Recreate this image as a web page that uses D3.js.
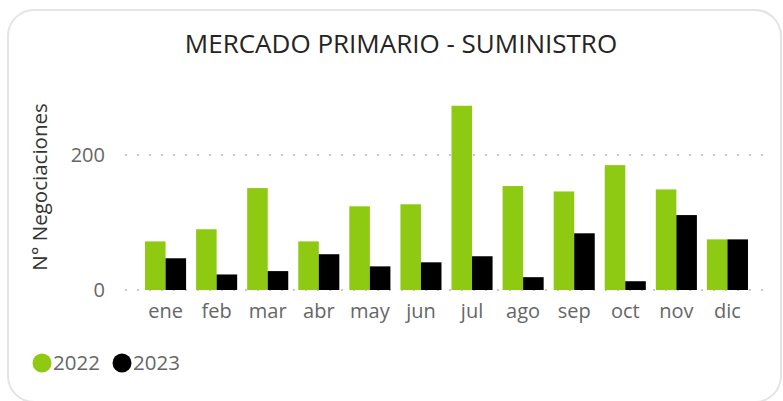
<!DOCTYPE html>
<html>
<head>
<meta charset="utf-8">
<script src="https://cdn.jsdelivr.net/npm/d3@7"></script>
<style>
  body { margin: 0; background: #fff; }
  svg { display: block; font-family: "Open Sans", sans-serif; }
</style>
</head>
<body>
<svg id="chart"></svg>
<script>
// data
var months = ["ene", "feb", "mar", "abr", "may", "jun", "jul", "ago", "sep", "oct", "nov", "dic"];
var years = ["2022", "2023"];
var values2022 = [72, 90, 151, 72, 124, 127, 273, 154, 146, 185, 149, 75];
var values2023 = [47, 23, 28, 53, 35, 41, 50, 19, 84, 13, 111, 75];
var yTicks = [0, 200];
var colors = ["#8fca13", "#000000"];

var svgWidth = 783, svgHeight = 401;
var svg = d3.select("#chart")
  .attr("width", svgWidth)
  .attr("height", svgHeight);

// card
svg.append("rect")
  .attr("x", 8).attr("y", 10)
  .attr("width", 773).attr("height", 392)
  .attr("rx", 26).attr("ry", 26)
  .attr("fill", "#fff")
  .attr("stroke", "#e4e4e4")
  .attr("stroke-width", 2);

svg.append("text")
  .attr("x", 401).attr("y", 53)
  .attr("text-anchor", "middle")
  .attr("fill", "#252423")
  .attr("font-size", 26)
  .text("MERCADO PRIMARIO - SUMINISTRO");

var y = d3.scaleLinear().domain([0, 200]).range([290, 155]);
var x = d3.scaleBand().domain(months).range([134.8, 758.2]).paddingInner(0.196).paddingOuter(0.2);
var x1 = d3.scaleBand().domain(years).range([0, x.bandwidth()]);

// dotted gridlines
svg.append("g").selectAll("line")
  .data(yTicks)
  .join("line")
  .attr("x1", 125).attr("x2", 764)
  .attr("y1", function (d) { return y(d); })
  .attr("y2", function (d) { return y(d); })
  .attr("stroke", "#c8c8c8")
  .attr("stroke-width", 2)
  .attr("stroke-dasharray", "2,10");

var yAxis = svg.append("g")
  .attr("transform", "translate(105,0)")
  .call(d3.axisLeft(y).tickValues(yTicks).tickSize(0).tickPadding(0));
yAxis.select(".domain").remove();
yAxis.selectAll("text")
  .attr("fill", "#666")
  .attr("font-size", 20)
  .attr("font-family", "Open Sans, sans-serif");

svg.append("text")
  .attr("transform", "translate(47,187) rotate(-90)")
  .attr("text-anchor", "middle")
  .attr("fill", "#333")
  .attr("font-size", 20.5)
  .text("N° Negociaciones");

var series = [values2022, values2023];
var groups = svg.append("g").selectAll("g")
  .data(months)
  .join("g")
  .attr("transform", function (d) { return "translate(" + x(d) + ",0)"; });

groups.selectAll("rect")
  .data(function (d, i) {
    return years.map(function (yr, j) { return {year: yr, value: series[j][i], color: colors[j]}; });
  })
  .join("rect")
  .attr("x", function (d) { return x1(d.year); })
  .attr("y", function (d) { return y(d.value); })
  .attr("width", x1.bandwidth())
  .attr("height", function (d) { return y(0) - y(d.value); })
  .attr("fill", function (d) { return d.color; });

var xAxis = svg.append("g")
  .attr("transform", "translate(0,290)")
  .call(d3.axisBottom(x).tickSize(0).tickPadding(14));
xAxis.select(".domain").remove();
xAxis.selectAll("text")
  .attr("fill", "#666")
  .attr("font-size", 20)
  .attr("font-family", "Open Sans, sans-serif");

// legend
var legend = svg.append("g").selectAll("g")
  .data(years)
  .join("g")
  .attr("transform", function (d, i) { return "translate(" + (42 + i * 80) + ",363)"; });
legend.append("circle")
  .attr("r", 9.5)
  .attr("fill", function (d, i) { return colors[i]; });
legend.append("text")
  .attr("x", 11)
  .attr("dy", "0.35em")
  .attr("fill", "#666")
  .attr("font-size", 20.5)
  .text(function (d) { return d; });
</script>
</body>
</html>
